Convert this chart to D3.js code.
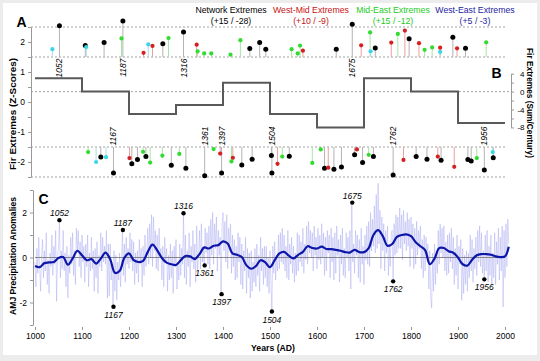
<!DOCTYPE html>
<html>
<head>
<meta charset="utf-8">
<script src="https://cdn.jsdelivr.net/npm/d3@7"></script>
<style>
  body { margin: 0; background: #ececec; }
  svg { display: block; font-family: "Liberation Sans", Arial, Helvetica, sans-serif; }
</style>
</head>
<body>
<svg width="540" height="361"></svg>
<script>
// ---- data ----
const groupNames = ["Network Extremes", "West-Mid Extremes", "Mid-East Extremes", "West-East Extremes"];
const groupCounts = ["(+15 / -28)", "(+10 / -9)", "(+15 / -12)", "(+5 / -3)"];

// panel A: [year, z-score]
const networkHigh = [[1052,2.54],[1107,1.88],[1147,1.98],[1187,2.7],[1272,1.94],[1316,2.33],[1457,1.78],[1478,1.98],[1491,1.76],[1641,1.76],[1675,2.59],[1724,1.8],[1796,2.11],[1889,2.16],[1916,1.79]];
const networkLow = [[1140,-1.83],[1167,-2.37],[1206,-2.06],[1218,-1.92],[1236,-1.82],[1290,-2.11],[1321,-2.21],[1361,-2.46],[1397,-2.37],[1440,-2.1],[1462,-1.91],[1503,-1.78],[1504,-2.37],[1541,-1.81],[1616,-2.21],[1636,-2.24],[1652,-2.17],[1680,-1.76],[1697,-2.02],[1720,-1.82],[1762,-2.43],[1811,-1.82],[1834,-1.91],[1864,-1.94],[1921,-1.92],[1928,-1.97],[1956,-2.27],[1975,-1.86]];
const westMidHigh = [[1231,1.64],[1250,1.87],[1344,1.91],[1570,1.71],[1694,1.89],[1758,1.98],[1787,2.38],[1817,1.96],[1862,1.81],[1898,1.79]];
const westMidLow = [[1201,-1.87],[1394,-1.72],[1421,-1.86],[1516,-2.06],[1624,-2.19],[1685,-1.58],[1784,-1.93],[1857,-1.82],[1892,-2.16]];
const midEastHigh = [[1184,2.12],[1284,2.13],[1346,1.69],[1360,1.62],[1375,1.62],[1416,1.58],[1437,2.06],[1546,1.76],[1559,1.62],[1564,1.88],[1713,2.32],[1772,2.27],[1829,1.74],[1845,1.82],[1960,1.99]];
const midEastLow = [[1113,-1.67],[1230,-1.66],[1245,-2.02],[1271,-1.79],[1307,-1.73],[1380,-1.57],[1418,-1.98],[1526,-1.82],[1590,-2.03],[1608,-1.58],[1710,-1.76],[1940,-1.87]];
const westEastHigh = [[1037,1.76],[1109,1.83],[1241,1.92],[1714,1.69],[1862,1.67]];
const westEastLow = [[1130,-2.0],[1151,-1.84],[1974,-1.67]];

const labelHigh = [1052, 1187, 1316, 1675];
const labelLow = [1167, 1361, 1397, 1504, 1762, 1956];

// panel B: sum per century
const centuries = [1000, 1100, 1200, 1300, 1400, 1500, 1600, 1700, 1800, 1900];
const centurySums = [3, 0, -5, -3, 2, -5, -8, 3, 0, -7];

// panel C: annual anomalies, every 2nd year from 1000 (one row of 5 per decade)
const annualStart = 1000;
const annualStep = 2;
const annualValues = [
  -0.2,-1.3,0.4,-0.7,0.9,  -0.5,-1.5,0.1,0.8,-0.9,  0.3,-0.6,1.1,-1.2,-0.1,  -1.6,0.2,-0.4,1.0,-0.8,
  0.5,-0.3,1.2,-1.95,0.1,  0.4,1.65,-0.9,0.3,-0.5,  1.2,-0.6,0.2,-1.3,0.5,  -1.8,0.1,-0.7,0.9,-0.3,
  1.1,-0.8,0.3,-1.2,1.3,  0.2,1.2,-0.4,0.7,-0.9,  1.0,-0.2,0.5,-1.1,0.6,  -0.4,1.0,-1.3,0.2,-0.6,
  0.9,-0.5,0.3,-1.5,0.4,  -0.9,0.7,-1.6,0.1,-0.4,  1.1,-0.6,0.9,-0.2,0.5,  -0.3,1.2,-1.8,0.6,-1.7,
  0.6,-1.0,-0.3,-2.2,0.3,  -1.5,0.1,-1.9,-0.2,-1.0,  0.2,-1.3,-0.4,1.2,-0.8,  0.6,-1.1,0.9,-0.3,0.4,
  -0.5,1.1,-0.2,0.8,-0.6,  0.7,-1.2,0.2,-0.7,0.3,  -1.1,0.8,-0.3,0.4,-1.3,  0.5,-0.8,1.0,-0.4,0.2,
  1.3,-0.3,1.5,0.0,1.9,  -0.4,1.8,0.3,1.2,-0.5,  1.0,-0.6,1.3,0.1,0.4,  -1.0,0.5,-1.3,0.9,-0.2,
  0.4,-1.5,0.1,-1.0,0.6,  -0.9,0.3,-1.6,0.5,-0.4,  0.8,-1.4,-0.2,-1.0,0.6,  -0.8,0.4,-0.3,1.95,-0.9,
  1.0,-1.2,0.3,-0.4,1.1,  -1.3,0.5,-0.2,1.2,-0.5,  0.6,-1.1,1.4,-0.6,0.1,  1.2,-0.5,1.5,-0.2,0.4,
  -0.35,1.3,0.2,1.1,-0.3,  1.4,-0.5,1.7,0.1,2.0,  -0.3,1.5,0.4,1.8,-0.6,  1.2,0.1,0.9,-1.6,1.4,
  2.0,0.3,1.6,-0.2,1.9,  -0.5,1.3,0.5,1.5,-0.7,  1.0,-0.4,0.8,-1.0,0.5,  -0.9,1.1,-0.2,0.9,-1.2,
  0.6,-1.4,0.3,-0.6,0.9,  -1.6,0.4,-0.9,0.2,-1.8,  0.3,-1.5,-0.2,-1.1,0.4,  -1.3,0.6,-0.8,0.1,-1.5,
  0.9,-0.6,0.4,-1.2,0.5,  -0.9,0.5,-1.3,0.0,-1.6,  0.3,-1.1,-2.4,0.5,-0.7,  0.7,-1.0,0.1,-0.6,1.0,
  -0.5,1.1,-0.2,1.3,-0.3,  1.0,-0.6,0.5,-0.9,1.2,  -1.0,0.6,-0.3,0.9,-0.7,  0.5,-1.1,0.2,-0.8,1.1,
  -0.6,1.0,-0.2,0.7,-0.4,  1.3,-0.7,0.6,-0.1,1.4,  -0.3,1.6,0.2,1.2,0.0,  1.1,-0.6,1.4,0.1,0.9,
  -0.5,1.3,-0.1,1.0,-0.3,  1.5,0.0,1.1,-0.8,0.9,  -0.6,1.2,0.2,1.0,-0.9,  1.3,-0.2,0.9,-1.0,1.1,
  -0.7,1.4,0.1,0.8,-1.1,  1.0,-0.3,1.3,-0.8,0.4,  -0.9,1.1,0.0,0.9,-0.6,  1.2,-1.4,2.44,-0.2,0.6,
  -0.7,1.2,0.1,1.0,-0.9,  0.8,-1.1,1.3,-0.3,0.5,  -1.2,1.0,-0.1,1.4,-0.3,  1.6,-0.4,2.0,0.3,1.7,
  0.5,2.3,0.2,2.8,0.4,  3.3,0.6,2.1,-0.5,1.8,  0.3,1.5,-0.6,1.2,0.2,  1.4,-0.8,0.6,-0.4,1.1,
  1.2,-1.06,1.5,0.1,1.9,  0.2,1.8,0.4,2.2,0.4,  1.9,-0.1,2.1,0.6,1.6,  0.3,2.0,0.5,1.7,-0.4,
  1.8,0.4,1.5,-0.5,1.3,  -0.3,1.6,0.1,1.2,0.4,  1.4,-0.5,0.8,-0.9,1.0,  -0.6,0.9,0.1,0.6,-1.4,
  0.3,-1.8,-2.25,0.2,-1.5,  0.6,-1.2,0.3,-0.7,1.2,  -0.3,1.5,0.2,1.3,0.0,  1.4,-0.6,0.7,-0.8,1.0,
  -0.7,1.1,-0.2,1.3,-0.5,  0.9,-1.2,0.4,-0.8,1.0,  -1.4,0.5,-0.3,0.8,-1.9,  0.4,-1.6,0.1,-1.2,0.3,
  -1.5,0.2,-0.9,1.0,-0.6,  0.8,-1.1,0.4,-0.5,0.9,  -0.8,1.2,-0.2,1.4,-0.4,  1.1,-0.7,0.3,-0.97,1.0,
  -0.6,1.2,-1.1,0.5,-0.8,  1.0,-1.3,0.2,-0.9,1.1,  -1.2,0.7,-0.3,1.3,-1.0,  0.9,-0.6,1.4,-2.2,1.2,
  -0.9,1.5,-0.4,1.7,0.6
];

// panel C: smoothed curve
const smoothYears = [1000,1010,1020,1030,1040,1050,1060,1070,1080,1090,1100,1110,1120,1130,1140,1150,1160,1170,1180,1190,
  1200,1210,1220,1230,1240,1250,1260,1270,1280,1290,1300,1310,1320,1330,1340,1350,1360,1370,1380,1390,
  1400,1410,1420,1430,1440,1450,1460,1470,1480,1490,1500,1510,1520,1530,1540,1550,1560,1570,1580,1590,
  1600,1610,1620,1630,1640,1650,1660,1670,1680,1690,1700,1710,1720,1730,1740,1750,1760,1770,1780,1790,
  1800,1810,1820,1830,1840,1850,1860,1870,1880,1890,1900,1910,1920,1930,1940,1950,1960,1970,1980,1990,2000,2008];
const smoothValues = [-0.38,-0.43,-0.25,-0.22,-0.2,-0.02,0.02,-0.32,-0.05,0.3,0.1,-0.12,-0.07,-0.27,-0.05,0.22,-0.08,-0.68,-0.6,-0.02,
  0.18,-0.12,-0.2,-0.15,0.25,0.57,0.32,-0.02,-0.23,-0.3,-0.33,-0.12,0.07,0.05,-0.07,0.15,0.45,0.4,0.52,0.55,
  0.72,0.62,0.18,0.12,0.02,-0.35,-0.5,-0.38,-0.12,-0.22,-0.43,-0.12,0.18,0.25,0.08,-0.04,0.12,0.25,0.5,0.42,
  0.4,0.48,0.38,0.37,0.34,0.3,0.24,0.22,0.34,0.24,0.24,0.42,1.0,1.22,0.95,0.52,0.6,0.92,1.0,1.03,
  0.95,0.68,0.5,0.33,-0.3,-0.05,0.42,0.42,0.28,0.21,0.0,-0.3,-0.36,-0.1,0.1,0.15,0.15,0.12,0.05,0.02,0.05,0.48];

// panel C: marked extreme years
const markYears = [1052, 1167, 1187, 1316, 1361, 1397, 1504, 1675, 1762, 1956];
const markValues = [1.66, -2.19, 1.22, 1.97, -0.35, -1.63, -2.4, 2.44, -1.06, -0.97];

// ---- drawing ----
const svg = d3.select("svg");
svg.append("rect").attr("x", 3).attr("y", 3).attr("width", 534).attr("height", 352).attr("fill", "#fff");

const x = d3.scaleLinear().domain([1000, 2000]).range([35, 505]);
const zA = d3.scaleLinear().domain([-2.5, 2.5]).range([177, 27]);
const yB = d3.scaleLinear().domain([-8, 4]).range([127.4, 73.7]);
const yC = d3.scaleLinear().domain([-3, 3]).range([325, 190]);

const dotColor = ["#000", "#d42020", "#2fdc2f", "#3ad8e6"];
const stemColor = ["#b4b4b4", "#eaa0a0", "#a6e6a6", "#a6dde8"];
const textColor = ["#000", "#c81414", "#22cc22", "#2323a0"];

// shrink/grow a text so it takes the width seen in the figure
function fitWidth(sel, w) {
  const cur = sel.node().getComputedTextLength();
  const fs = parseFloat(sel.attr("font-size"));
  sel.attr("font-size", (fs * w / cur).toFixed(2));
}

// legend
const lg = svg.append("g");
const legendX = [231, 311, 393, 475];
const probe = lg.append("text").attr("font-size", 9).text(groupNames[1]);
fitWidth(probe, 76);
const legendSize = probe.attr("font-size");
probe.remove();
groupNames.forEach((n, i) => {
  lg.append("text").attr("x", legendX[i]).attr("y", 12.5).attr("text-anchor", "middle")
    .attr("font-size", legendSize).attr("fill", textColor[i]).text(n);
  lg.append("text").attr("x", legendX[i]).attr("y", 23.5).attr("text-anchor", "middle")
    .attr("font-size", legendSize).attr("fill", textColor[i]).text(groupCounts[i]);
});

// dashed reference lines (A)
[2.5, 1.5, -1.5, -2.5].forEach(v => {
  svg.append("line").attr("x1", 31).attr("x2", 507).attr("y1", zA(v)).attr("y2", zA(v))
    .attr("stroke", "#8c8c8c").attr("stroke-width", 0.8).attr("stroke-dasharray", "2,2");
});
// zero line of B
svg.append("line").attr("x1", 31).attr("x2", 511).attr("y1", yB(0)).attr("y2", yB(0))
  .attr("stroke", "#8c8c8c").attr("stroke-width", 0.8).attr("stroke-dasharray", "2,2");

// step line (B)
const stepPts = centuries.map((c, i) => [c, centurySums[i]]).concat([[2000, centurySums[centurySums.length - 1]]]);
svg.append("path")
  .attr("d", d3.line().x(d => x(d[0])).y(d => yB(d[1])).curve(d3.curveStepAfter)(stepPts))
  .attr("fill", "none").attr("stroke", "#595959").attr("stroke-width", 2);

// stems and dots (A)
const groups = [
  [networkHigh, networkLow],
  [westMidHigh, westMidLow],
  [midEastHigh, midEastLow],
  [westEastHigh, westEastLow]
];
const stemG = svg.append("g");
groups.forEach((g, i) => {
  g.forEach((set, k) => {
    const base = k === 0 ? 1.5 : -1.5;
    stemG.selectAll(null).data(set).enter().append("line")
      .attr("x1", d => x(d[0])).attr("x2", d => x(d[0]))
      .attr("y1", zA(base)).attr("y2", d => zA(d[1]))
      .attr("stroke", stemColor[i]).attr("stroke-width", 1);
  });
});
const dotG = svg.append("g");
groups.forEach((g, i) => {
  g.forEach(set => {
    dotG.selectAll(null).data(set).enter().append("circle")
      .attr("cx", d => x(d[0])).attr("cy", d => zA(d[1]))
      .attr("r", i === 0 ? 2.5 : 2.1).attr("fill", dotColor[i]);
  });
});

// rotated year labels (A)
const yl = svg.append("g").attr("font-size", 8.5).attr("font-style", "italic");
labelHigh.forEach(yr => {
  yl.append("text").attr("transform", `translate(${x(yr) + 3},${zA(1.5) + 1.5}) rotate(-90)`)
    .attr("text-anchor", "end").text(yr);
});
labelLow.forEach(yr => {
  yl.append("text").attr("transform", `translate(${x(yr) + 3},${zA(-1.5) - 1.5}) rotate(-90)`)
    .attr("text-anchor", "start").text(yr);
});

// axis A (left)
const axA = svg.append("g").attr("transform", "translate(31,0)")
  .call(d3.axisLeft(zA).tickValues(d3.range(-2.5, 2.51, 0.5)).tickSize(3).tickSizeOuter(0)
    .tickFormat(d => Number.isInteger(d) ? String(d) : ""));
// axis B (right)
const axB = svg.append("g").attr("transform", "translate(511,0)")
  .call(d3.axisRight(yB).tickValues([-8, -6, -4, -2, 0, 2, 4]).tickSize(3).tickSizeOuter(0)
    .tickFormat(d => d % 4 === 0 ? String(d) : ""));
axB.selectAll("text").attr("text-anchor", "end").attr("x", 13.5);
// axis C (left)
const axC = svg.append("g").attr("transform", "translate(33,0)")
  .call(d3.axisLeft(yC).tickValues([-3, -2, -1, 0, 1, 2, 3]).tickSize(3).tickSizeOuter(0)
    .tickFormat(d => d % 2 === 0 ? String(d) : ""));
// x axis (C)
const axX = svg.append("g").attr("transform", "translate(0,327)")
  .call(d3.axisBottom(x).tickValues(d3.range(1000, 2001, 100)).tickSize(3).tickFormat(d => String(d)));
axX.select(".domain").remove();

[axA, axB, axC, axX].forEach(a => {
  a.attr("font-family", null).attr("font-size", 8.5);
  a.selectAll("line").attr("stroke", "#999");
  a.selectAll(".domain").attr("stroke", "#999");
  a.selectAll("text").attr("fill", "#000");
});
axB.attr("font-size", 8);

// panel C series
const annualPts = annualValues.map((v, i) => [annualStart + i * annualStep, v]);
svg.append("path")
  .attr("d", d3.line().x(d => x(d[0])).y(d => yC(d[1]))(annualPts))
  .attr("fill", "none").attr("stroke", "#9a9af0").attr("stroke-width", 0.5).attr("stroke-opacity", 0.75);

svg.append("line").attr("x1", 35).attr("x2", 505).attr("y1", yC(0)).attr("y2", yC(0))
  .attr("stroke", "#6f6f6f").attr("stroke-width", 0.8);

svg.append("path")
  .attr("d", d3.line().x((d, i) => x(smoothYears[i])).y(d => yC(d)).curve(d3.curveCatmullRom)(smoothValues))
  .attr("fill", "none").attr("stroke", "#0c16a8").attr("stroke-width", 2.2);

const mk = svg.append("g");
markYears.forEach((yr, i) => {
  const v = markValues[i];
  mk.append("circle").attr("cx", x(yr)).attr("cy", yC(v)).attr("r", 2.2).attr("fill", "#000");
  mk.append("text").attr("x", x(yr)).attr("y", v > 0 ? yC(v) - 4 : yC(v) + 11)
    .attr("text-anchor", "middle").attr("font-size", 8.5).attr("font-style", "italic").text(yr);
});

// titles and panel letters
const tt = svg.append("g").attr("font-weight", "bold");
const t1 = tt.append("text").attr("transform", "translate(16,114) rotate(-90)").attr("text-anchor", "middle")
  .attr("font-size", 9).text("Fir Extremes (Z-Scores)");
fitWidth(t1, 112);
const t2 = tt.append("text").attr("transform", "translate(16,256) rotate(-90)").attr("text-anchor", "middle")
  .attr("font-size", 9).text("AMJ Precipitation Anomalies");
fitWidth(t2, 118);
const t3 = tt.append("text").attr("transform", "translate(526.5,103) rotate(90)").attr("text-anchor", "middle")
  .attr("font-size", 9).text("Fir Extremes (Sum/Century)");
fitWidth(t3, 110);
const t4 = tt.append("text").attr("x", 273).attr("y", 351).attr("text-anchor", "middle")
  .attr("font-size", 9).text("Years (AD)");
fitWidth(t4, 44);

const pl = svg.append("g").attr("font-weight", "bold").attr("font-size", 14);
pl.append("text").attr("x", 16.5).attr("y", 27).text("A");
pl.append("text").attr("x", 491.5).attr("y", 78).text("B");
pl.append("text").attr("x", 38.5).attr("y", 204).text("C");
</script>
</body>
</html>
